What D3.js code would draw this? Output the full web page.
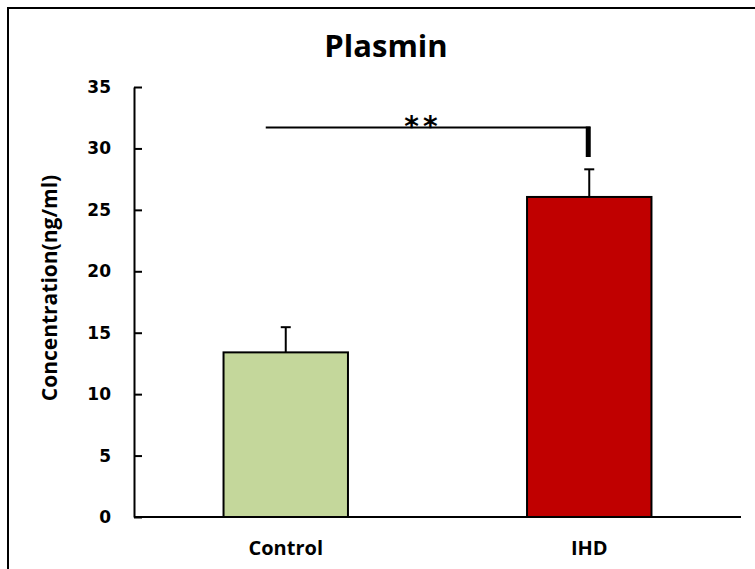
<!DOCTYPE html>
<html>
<head>
<meta charset="utf-8">
<title>Plasmin</title>
<script src="https://cdn.jsdelivr.net/npm/d3@7"></script>
<style>
  body { margin: 0; background: #fff; }
  text { font-family: "Open Sans", "DejaVu Sans", sans-serif; font-weight: bold; fill: #000; }
  .tick text { font-family: "DejaVu Sans", sans-serif; font-size: 17px; }
  .domain, .tick line { stroke: #000; stroke-width: 2px; }
</style>
</head>
<body>
<svg id="chart" width="755" height="569"></svg>
<script>
// values
var groups = ["Control", "IHD"];
var means = [13.4, 26.05];
var errors = [2.05, 2.25];
var colors = ["#c4d79b", "#c00000"];
var yTicks = [0, 5, 10, 15, 20, 25, 30, 35];
var sigLevel = 31.7, sigTickBottom = 29.3, sigLabel = "**";

var svg = d3.select("#chart");

// frame around the figure (cut off on right and bottom)
svg.append("rect")
  .attr("x", 8).attr("y", 8)
  .attr("width", 760).attr("height", 580)
  .attr("fill", "none").attr("stroke", "#000").attr("stroke-width", 2);

var plotLeft = 134, plotRight = 741, plotTop = 87, plotBottom = 517;

var x = d3.scaleBand().domain(groups).range([plotLeft, plotRight]).paddingInner(0.59).paddingOuter(0.295);
var y = d3.scaleLinear().domain([0, 35]).range([plotBottom, plotTop]);

// y axis, ticks pointing inward
var yAxis = svg.append("g")
  .attr("transform", "translate(" + plotLeft + ",0)")
  .call(d3.axisRight(y).tickValues(yTicks).tickSize(8).tickSizeOuter(0));
yAxis.selectAll(".tick text")
  .attr("x", -23).attr("text-anchor", "end");

// bars
svg.selectAll("rect.bar")
  .data(groups)
  .enter().append("rect")
  .attr("class", "bar")
  .attr("x", function(d) { return x(d); })
  .attr("width", x.bandwidth())
  .attr("y", function(d, i) { return y(means[i]); })
  .attr("height", function(d, i) { return y(0) - y(means[i]); })
  .attr("fill", function(d, i) { return colors[i]; })
  .attr("stroke", "#000").attr("stroke-width", 2);

// error bars (upper only)
groups.forEach(function(g, i) {
  var cx = x(g) + x.bandwidth() / 2;
  svg.append("line")
    .attr("x1", cx).attr("x2", cx)
    .attr("y1", y(means[i])).attr("y2", y(means[i] + errors[i]))
    .attr("stroke", "#000").attr("stroke-width", 2);
  svg.append("line")
    .attr("x1", cx - 5).attr("x2", cx + 5)
    .attr("y1", y(means[i] + errors[i])).attr("y2", y(means[i] + errors[i]))
    .attr("stroke", "#000").attr("stroke-width", 2);
});

// x axis
svg.append("line")
  .attr("x1", plotLeft).attr("x2", plotRight)
  .attr("y1", y(0)).attr("y2", y(0))
  .attr("stroke", "#000").attr("stroke-width", 2);

svg.selectAll("text.xlab")
  .data(groups)
  .enter().append("text")
  .attr("class", "xlab")
  .attr("x", function(d) { return x(d) + x.bandwidth() / 2; })
  .attr("y", 555)
  .attr("text-anchor", "middle")
  .style("font-size", "20px")
  .text(function(d) { return d; });

// significance bracket
var x0 = x(groups[0]) + x.bandwidth() / 2 - 20;
var x1 = x(groups[1]) + x.bandwidth() / 2;
svg.append("line")
  .attr("x1", x0).attr("x2", x1 + 1)
  .attr("y1", y(sigLevel)).attr("y2", y(sigLevel))
  .attr("stroke", "#000").attr("stroke-width", 2);
svg.append("line")
  .attr("x1", x1 - 1).attr("x2", x1 - 1)
  .attr("y1", y(sigLevel) - 1).attr("y2", y(sigTickBottom))
  .attr("stroke", "#000").attr("stroke-width", 5);
svg.append("text")
  .attr("x", 423).attr("y", y(sigLevel) + 8)
  .attr("text-anchor", "middle")
  .style("font-size", "28px")
  .style("letter-spacing", "4px")
  .style("font-family", "DejaVu Sans, sans-serif")
  .text(sigLabel);

// title
svg.append("text")
  .attr("x", 386).attr("y", 57)
  .attr("text-anchor", "middle")
  .style("font-size", "31px")
  .text("Plasmin");

// y label
svg.append("text")
  .attr("transform", "translate(57,288) rotate(-90)")
  .attr("text-anchor", "middle")
  .style("font-size", "21px")
  .text("Concentration(ng/ml)");
</script>
</body>
</html>
